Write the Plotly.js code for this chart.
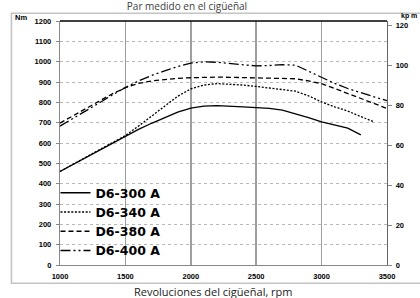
<!DOCTYPE html>
<html>
<head>
<meta charset="utf-8">
<script src="https://cdn.plot.ly/plotly-3.0.1.min.js"></script>
<style>html,body{margin:0;padding:0;background:#fff;}#chart{width:420px;height:298px;}</style>
</head>
<body>
<div id="chart"></div>
<script>
var seriesNames = ["D6-300 A", "D6-340 A", "D6-380 A", "D6-400 A"];
var rpm300 = [1000,1100,1200,1300,1400,1500,1600,1700,1800,1900,2000,2100,2200,2300,2400,2500,2600,2700,2800,2900,3000,3100,3200,3300];
var nm300  = [460,495,530,565,600,635,667,697,725,752,772,781,784,782,778,774,770,762,745,725,704,688,673,640];
var rpm340 = [1000,1100,1200,1300,1400,1500,1600,1700,1800,1900,2000,2100,2200,2300,2400,2500,2600,2700,2800,2900,3000,3100,3200,3300,3400];
var nm340  = [460,495,530,565,600,637,683,732,783,830,866,885,892,890,885,878,870,863,855,832,802,778,757,730,704];
var rpm380 = [1000,1100,1200,1300,1400,1500,1600,1700,1800,1900,2000,2100,2200,2300,2400,2500,2600,2700,2800,2900,3000,3100,3200,3300,3400,3500];
var nm380  = [698,735,772,808,842,872,893,905,913,918,921,923,924,923,922,921,921,920,916,905,892,868,843,818,795,770];
var rpm400 = [1000,1100,1200,1300,1400,1500,1600,1700,1800,1900,2000,2100,2200,2300,2400,2500,2600,2700,2800,2900,3000,3100,3200,3300,3400,3500];
var nm400  = [683,720,758,797,836,873,905,932,955,976,993,999,997,990,983,979,981,985,983,952,920,893,868,846,827,808];
var xTicks = [1000,1500,2000,2500,3000,3500];
var yTicks = [0,100,200,300,400,500,600,700,800,900,1000,1100,1200];
var y2Ticks = [0,20,40,60,80,100,120];
var NM_PER_KPM = 9.80665;

var dashes = ["solid", "2px,1.6px", "5px,3px", "10px,3px,2px,3px,2px,3px"];
var xs = [rpm300, rpm340, rpm380, rpm400];
var ys = [nm300, nm340, nm380, nm400];
var traces = seriesNames.map(function(n, i){
  return {x: xs[i], y: ys[i], name: n, type: "scatter", mode: "lines",
          line: {color: "#000", width: 1.3, dash: dashes[i]}};
});
traces.push({x: [xTicks[0]], y: [null], yaxis: "y2", showlegend: false, hoverinfo: "skip", mode: "lines"});

var tickFont = {family: "Liberation Sans, Arial, sans-serif", size: 7.5, color: "#000", weight: "bold"};
var layout = {
  width: 420, height: 298,
  margin: {l: 60, r: 33, t: 21, b: 33, pad: 0},
  paper_bgcolor: "#fff", plot_bgcolor: "#fff",
  showlegend: true,
  title: {text: "Par medido en el cigüeñal", x: 187/420, xanchor: "center", y: 1, yanchor: "top", yref: "container", pad: {t: 2.5, b: 0},
          font: {family: "Open Sans, sans-serif", size: 10, color: "#404040"}},
  xaxis: {range: [1000, 3500], tickvals: xTicks, ticktext: xTicks.map(String), showgrid: true, gridcolor: "#9e9e9e", gridwidth: 1.6,
          showline: true, linecolor: "#888", linewidth: 1.2, ticks: "", ticklabelstandoff: 4, tickfont: tickFont, zeroline: false, fixedrange: true},
  yaxis: {range: [0, 1200], tickvals: yTicks, ticktext: yTicks.map(String), showgrid: true, gridcolor: "#b8b8b8", griddash: "dot", gridwidth: 1,
          showline: true, linecolor: "#888", linewidth: 1.2, ticks: "outside", ticklen: 3, tickcolor: "#888", ticklabelstandoff: 3, tickfont: tickFont, zeroline: false},
  yaxis2: {overlaying: "y", side: "right", range: [0, 1200 / NM_PER_KPM], tickvals: y2Ticks, ticktext: y2Ticks.map(String), showgrid: false,
           showline: true, linecolor: "#666", linewidth: 1.2, ticks: "outside", ticklen: 4, tickcolor: "#888", ticklabelstandoff: 2, tickfont: tickFont, zeroline: false},
  legend: {x: -0.0138, xanchor: "left", y: 0.356, yanchor: "top", bgcolor: "rgba(0,0,0,0)", borderwidth: 0,
           font: {family: "DejaVu Sans, sans-serif", size: 12.5, color: "#000", weight: "bold"}, tracegroupgap: 0},
  shapes: [
    {type: "rect", xref: "paper", yref: "paper", x0: -0.1485, x1: 1.12, y0: -0.0749, y1: (265-13)/244.3, line: {color: "#c4c4c4", width: 1.6}, layer: "below"},
    {type: "line", xref: "paper", yref: "paper", x0: 0, x1: 1, y0: 1, y1: 1, line: {color: "#000", width: 1.4}}
  ],
  annotations: [
    {text: "Revoluciones del cigüeñal, rpm", xref: "paper", yref: "paper", x: (214-60.5)/326.5, y: (265-292)/244.3, xanchor: "center", yanchor: "middle",
     showarrow: false, font: {family: "Open Sans, sans-serif", size: 11, color: "#222"}},
    {text: "<b>Nm</b>", xref: "paper", yref: "paper", x: (14-60.5)/326.5, y: (265-17.5)/244.3, xanchor: "left", yanchor: "middle",
     showarrow: false, font: {family: "Liberation Sans, Arial, sans-serif", size: 7.5, color: "#000"}},
    {text: "<b>kp m</b>", xref: "paper", yref: "paper", x: (419-60.5)/326.5, y: (265-16)/244.3, xanchor: "right", yanchor: "middle",
     showarrow: false, font: {family: "Liberation Sans, Arial, sans-serif", size: 7, color: "#000"}}
  ]
};
Plotly.newPlot("chart", traces, layout, {displayModeBar: false, staticPlot: true});
</script>
</body>
</html>
